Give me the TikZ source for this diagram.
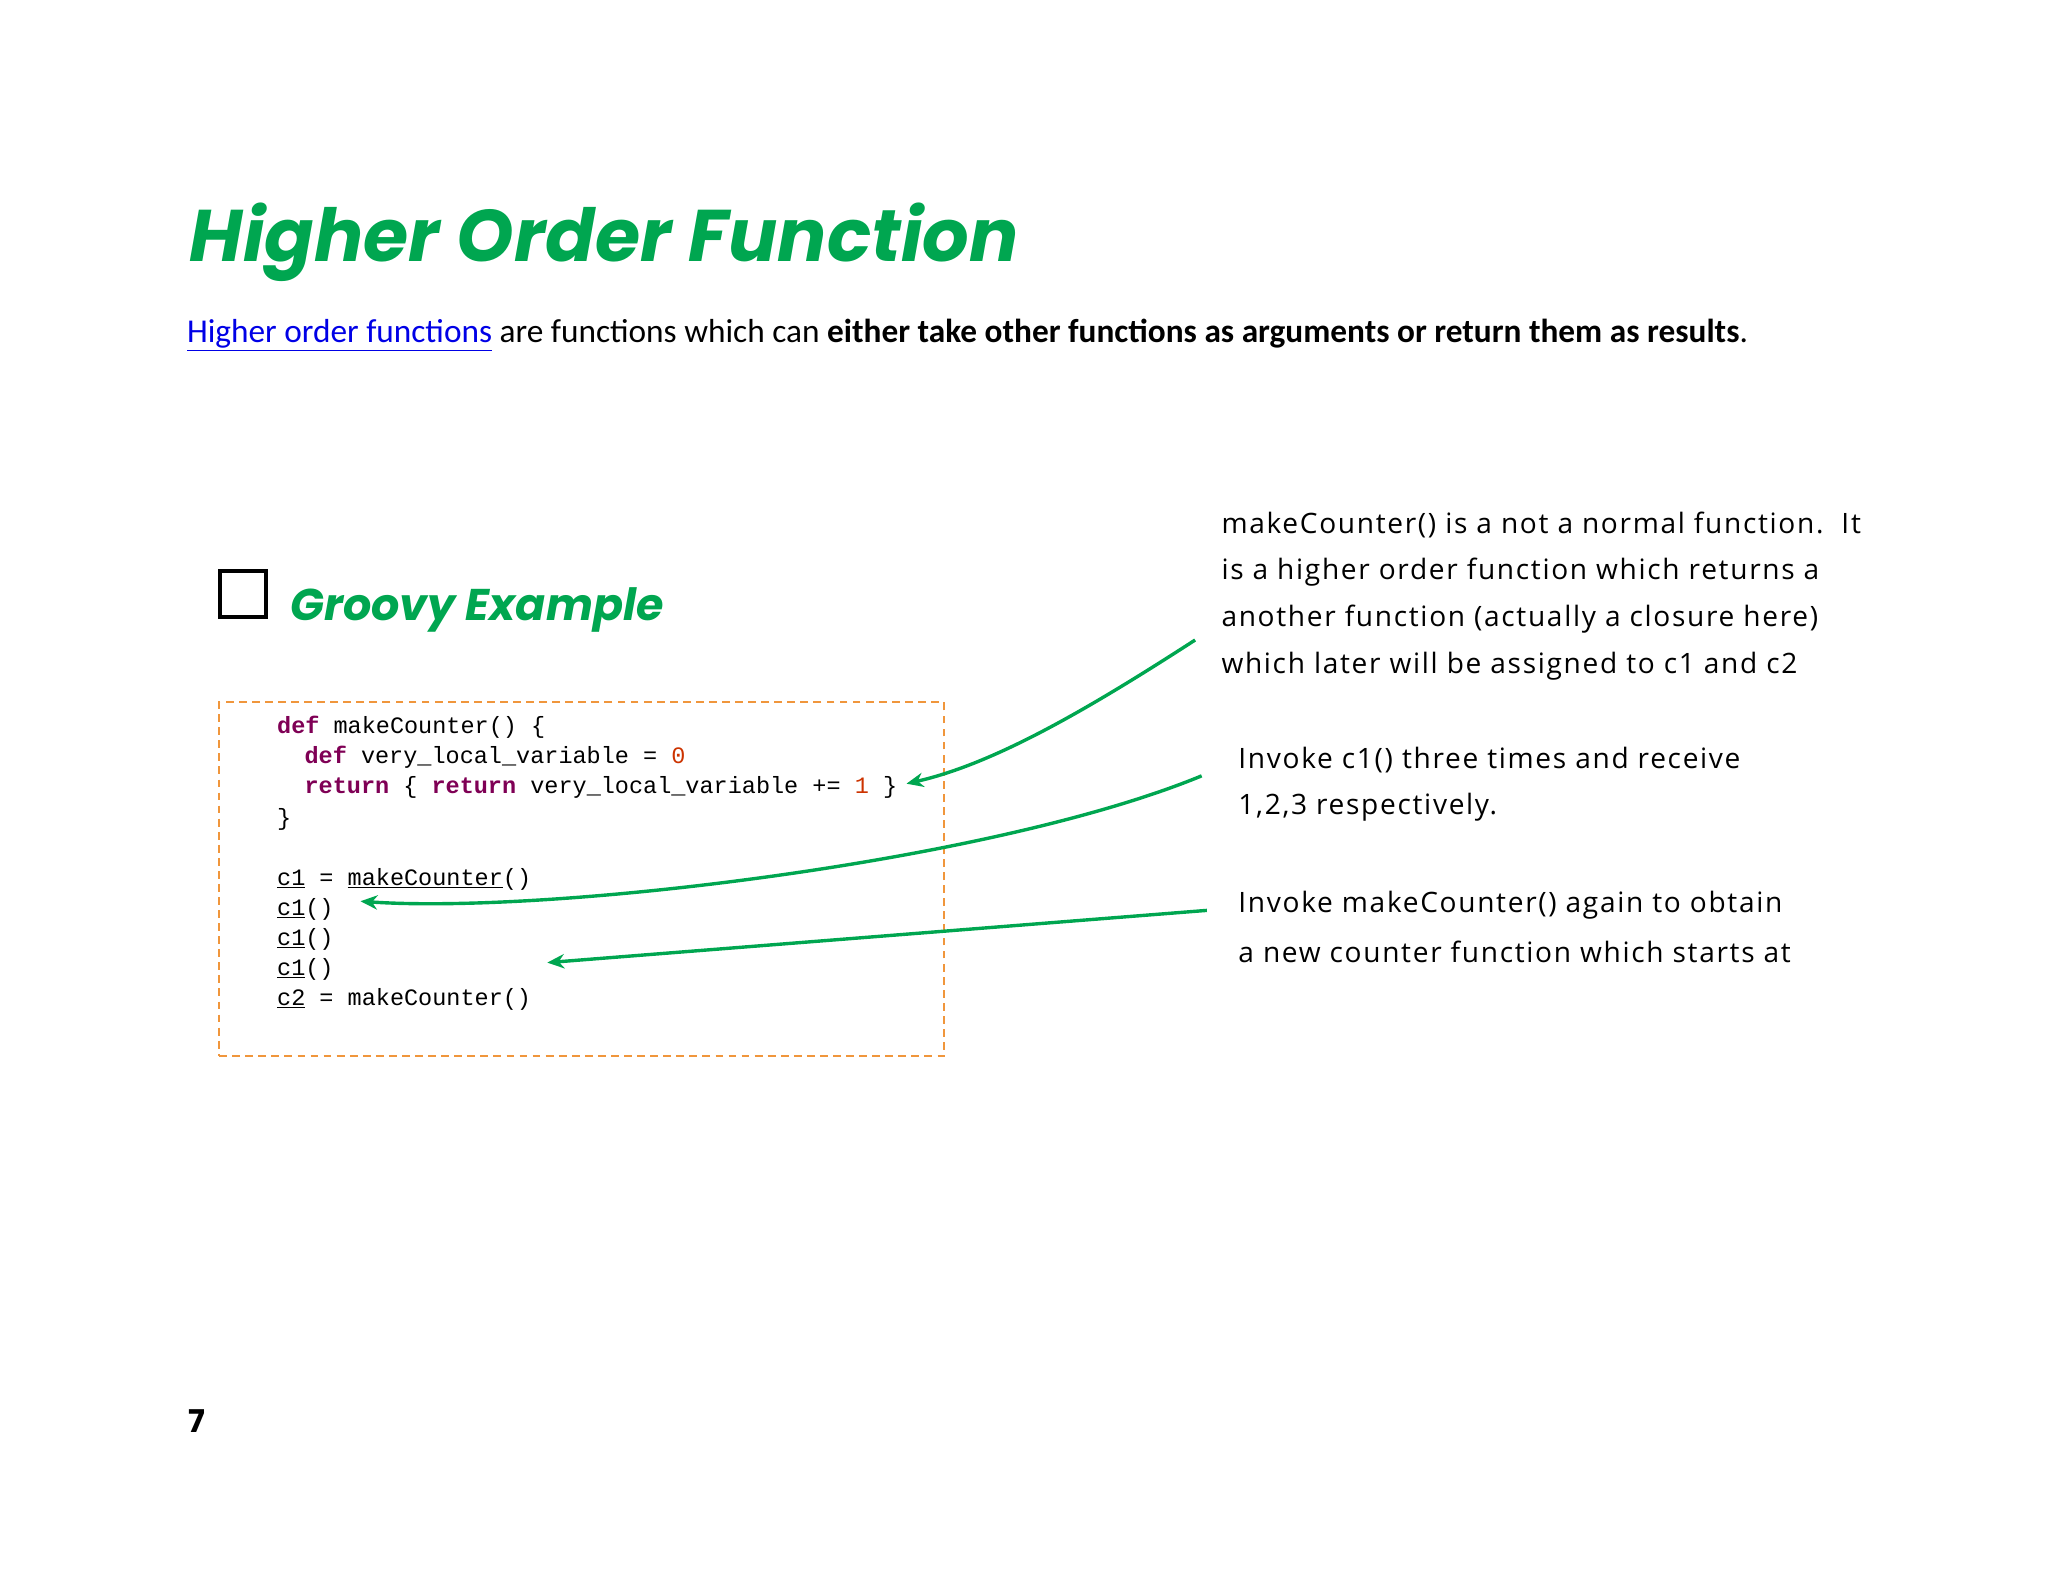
\documentclass[tikz,border=0pt]{standalone}
\usepackage{fontspec}
\usetikzlibrary{arrows.meta}
\setmainfont{Carlito}
\setmonofont{Liberation Mono}
\newfontfamily\hand{Poppins}
\newfontfamily\opens[LetterSpace=6]{Open Sans}
\definecolor{hgreen}{RGB}{0,166,80}
\definecolor{kw}{RGB}{127,0,85}
\definecolor{num}{RGB}{204,51,0}
\definecolor{dorange}{RGB}{240,150,60}
\definecolor{lnk}{RGB}{0,0,230}
\newcommand{\kwd}[1]{\textcolor{kw}{\textbf{#1}}}
\newcommand{\nm}[1]{\textcolor{num}{#1}}
\begin{document}
\begin{tikzpicture}[x=1pt,y=-1pt,
  code/.style={anchor=west,inner sep=0,font=\fontsize{18}{20}\ttfamily},
  side/.style={anchor=west,inner sep=0,font=\fontsize{21.5}{24}\opens},
  arr/.style={draw=hgreen,line width=2.6pt,-{Stealth[length=13pt,width=11pt]}}]
\useasboundingbox (0,0) rectangle (1568,1211);
\node[anchor=base west,inner sep=0,text=hgreen,font=\fontsize{56}{62}\hand\bfseries\itshape] (title) at (145,200) {Higher Order Function};
\node[anchor=base west,inner sep=0,font=\fontsize{25.5}{28}\selectfont] (intro) at (143,262) {\textcolor{lnk}{\underline{Higher order functions}} are functions which can \textbf{either take other functions as arguments or return them as results}.};
\node[draw,line width=3pt,minimum size=35pt,inner sep=0] (cb) at (186,455) {};
\node[anchor=base west,inner sep=0,text=hgreen,font=\fontsize{34}{38}\hand\bfseries\itshape] (ge) at (222,475) {Groovy Example};
\node[draw=dorange,dash pattern=on 6pt off 4pt,line width=1.6pt,minimum width=555pt,minimum height=271pt,anchor=north west,inner sep=0] (box) at (167,537) {};
\node[code] (l1) at (212,557) {\kwd{def} makeCounter() \{};
\node[code] (l2) at (233,580) {\kwd{def} very\_local\_variable = \nm{0}};
\node[code] (l3) at (233,603) {\kwd{return} \{ \kwd{return} very\_local\_variable += \nm{1} \}};
\node[code] (l4) at (212,627) {\}};
\node[code] (l5) at (212,673) {\underline{c1} = \underline{makeCounter}()};
\node[code] (l6) at (212,696) {\underline{c1}()};
\node[code] (l7) at (212,719) {\underline{c1}()};
\node[code] (l8) at (212,742) {\underline{c1}()};
\node[code] (l9) at (212,765) {\underline{c2} = makeCounter()};
\node[side] (t1) at (935,402) {makeCounter() is a not a normal function.\ \ It};
\node[side] (t2) at (935,438) {is a higher order function which returns a};
\node[side] (t3) at (935,474) {another function (actually a closure here)};
\node[side] (t4) at (935,510) {which later will be assigned to c1 and c2};
\node[side] (s1) at (948,582) {Invoke c1() three times and receive};
\node[side] (s2) at (948,618) {1,2,3 respectively.};
\node[side] (u1) at (948,693) {Invoke makeCounter() again to obtain};
\node[side] (u2) at (948,729) {a new counter function which starts at};
\node[anchor=base west,inner sep=0,font=\fontsize{24}{28}\hand\bfseries] (pg) at (144,1097) {7};
\coordinate (a1s) at (915,490); \coordinate (a1e) at (694,600);
\coordinate (a2s) at (920,594); \coordinate (a2e) at (276,690);
\coordinate (a3s) at (924,697); \coordinate (a3e) at (419,737);
\draw[arr] (a1s) .. controls (830,545) and (760,585) .. (a1e);
\draw[arr] (a2s) .. controls (760,660) and (420,700) .. (a2e);
\draw[arr] (a3s) -- (a3e);
\end{tikzpicture}
\end{document}
